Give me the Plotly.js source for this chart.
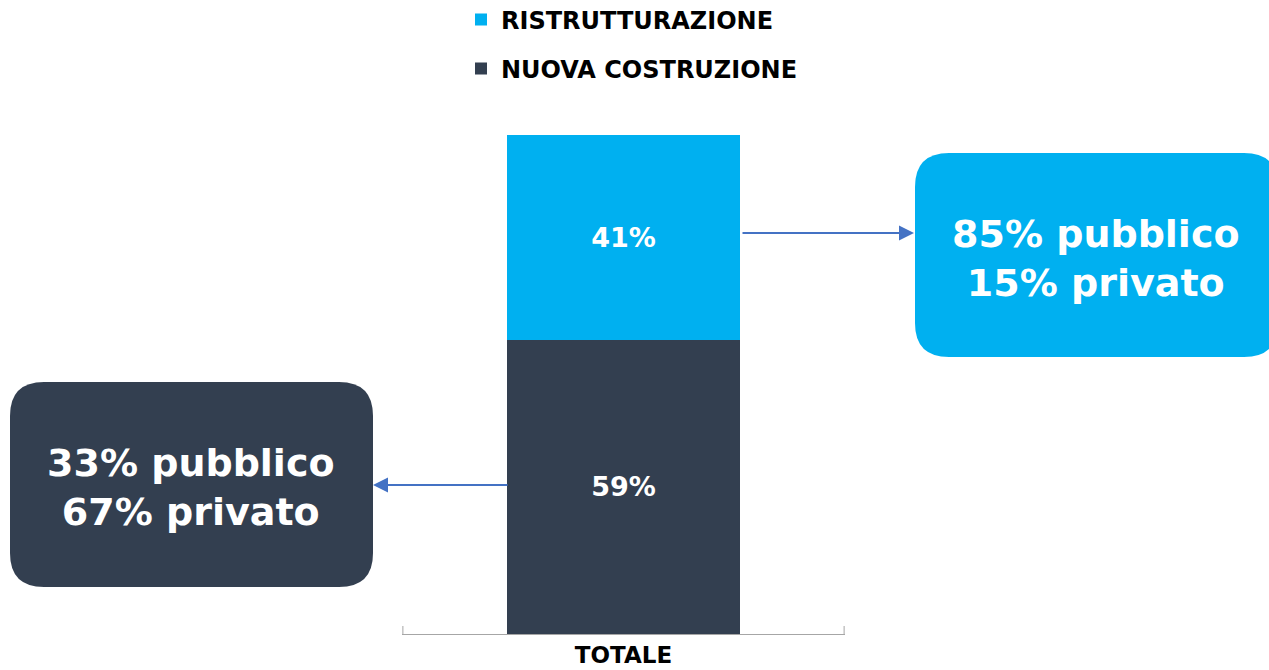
<!DOCTYPE html>
<html>
<head>
<meta charset="utf-8">
<script src="https://cdn.plot.ly/plotly-3.0.1.min.js"></script>
<style>html,body{margin:0;padding:0;background:#fff;}#chart{width:1269px;height:670px;}</style>
</head>
<body>
<div id="chart"></div>
<script>
// ---- data ----
var categories = ['TOTALE'];
var seriesNames = ['NUOVA COSTRUZIONE', 'RISTRUTTURAZIONE'];
var nuovaValues = [59];
var ristValues = [41];
var splitLabels = ['pubblico', 'privato'];
var ristSplit = [85, 15];
var nuovaSplit = [33, 67];

// ---- style ----
var FONT = 'DejaVu Sans, Verdana, sans-serif';
var C_LIGHT = '#00B0F0';
var C_DARK = '#333F50';
var C_ARROW = '#4472C4';
var C_AXIS = '#A6A6A6';

// plot area in pixels
var PL = 402, PR = 845, PT = 135, PB = 634;
function px(x) { return (x - PL) / (PR - PL); }
function py(y) { return (PB - y) / (PB - PT); }

function roundRect(x0, y0, x1, y1, r) {
  var X0 = px(x0), X1 = px(x1), Y0 = py(y0), Y1 = py(y1);
  var rx = r / (PR - PL), ry = r / (PB - PT);
  return 'M' + (X0 + rx) + ',' + Y0 +
    ' L' + (X1 - rx) + ',' + Y0 +
    ' Q' + X1 + ',' + Y0 + ' ' + X1 + ',' + (Y0 - ry) +
    ' L' + X1 + ',' + (Y1 + ry) +
    ' Q' + X1 + ',' + Y1 + ' ' + (X1 - rx) + ',' + Y1 +
    ' L' + (X0 + rx) + ',' + Y1 +
    ' Q' + X0 + ',' + Y1 + ' ' + X0 + ',' + (Y1 + ry) +
    ' L' + X0 + ',' + (Y0 - ry) +
    ' Q' + X0 + ',' + Y0 + ' ' + (X0 + rx) + ',' + Y0 + ' Z';
}

function splitText(vals) {
  return vals[0] + '% ' + splitLabels[0] + '<br>' + vals[1] + '% ' + splitLabels[1];
}

var barText = {family: FONT, size: 27, color: '#FFFFFF', weight: 700};

var traces = [
  {
    type: 'bar', x: categories, y: nuovaValues, name: seriesNames[0],
    marker: {color: C_DARK}, width: 0.53,
    text: nuovaValues.map(function (v) { return v + '%'; }),
    textposition: 'inside', insidetextanchor: 'middle',
    textfont: barText, constraintext: 'none',
    legend: 'legend2', hoverinfo: 'skip'
  },
  {
    type: 'bar', x: categories, y: ristValues, name: seriesNames[1],
    marker: {color: C_LIGHT}, width: 0.53,
    text: ristValues.map(function (v) { return v + '%'; }),
    textposition: 'inside', insidetextanchor: 'middle',
    textfont: barText, constraintext: 'none',
    legend: 'legend', hoverinfo: 'skip'
  }
];

var legendFont = {family: FONT, size: 24, color: '#000000', weight: 700};

// category boundary tick marks (rising from the axis line)
var boundaryShapes = [];
for (var i = 0; i <= categories.length; i++) {
  boundaryShapes.push({
    type: 'line', xref: 'x', yref: 'paper', ysizemode: 'pixel', yanchor: 0,
    x0: i - 0.5, x1: i - 0.5, y0: 0, y1: 8,
    line: {color: C_AXIS, width: 1}, layer: 'above'
  });
}

var layout = {
  width: 1269, height: 670,
  margin: {l: PL, r: 1269 - PR, t: PT, b: 670 - PB, pad: 0, autoexpand: false},
  paper_bgcolor: '#FFFFFF', plot_bgcolor: '#FFFFFF',
  barmode: 'stack',
  showlegend: true,
  legend: {
    x: px(461), y: py(20), xanchor: 'left', yanchor: 'middle',
    font: legendFont, itemwidth: 30, bgcolor: 'rgba(0,0,0,0)', borderwidth: 0
  },
  legend2: {
    x: px(461), y: py(69), xanchor: 'left', yanchor: 'middle',
    font: legendFont, itemwidth: 30, bgcolor: 'rgba(0,0,0,0)', borderwidth: 0
  },
  xaxis: {
    type: 'category', range: [-0.502, 0.502],
    showline: true, linecolor: C_AXIS, linewidth: 1, ticks: '',
    tickfont: {family: FONT, size: 23, color: '#000000', weight: 700},
    showgrid: false, zeroline: false, fixedrange: true
  },
  yaxis: {
    range: [0, 100], visible: false, showgrid: false, zeroline: false, fixedrange: true
  },
  shapes: [
    {type: 'path', xref: 'paper', yref: 'paper', path: roundRect(915, 153, 1278, 357, 34),
     fillcolor: C_LIGHT, line: {width: 0}, layer: 'below'},
    {type: 'path', xref: 'paper', yref: 'paper', path: roundRect(10, 382, 373, 587, 34),
     fillcolor: C_DARK, line: {width: 0}, layer: 'below'}
  ].concat(boundaryShapes),
  annotations: [
    {xref: 'paper', yref: 'paper', x: px(1096), y: py(258), xanchor: 'center', yanchor: 'middle',
     showarrow: false, text: splitText(ristSplit), align: 'center',
     font: {family: FONT, size: 38, color: '#FFFFFF', weight: 700}},
    {xref: 'paper', yref: 'paper', x: px(191), y: py(488), xanchor: 'center', yanchor: 'middle',
     showarrow: false, text: splitText(nuovaSplit), align: 'center',
     font: {family: FONT, size: 38, color: '#FFFFFF', weight: 700}},
    {xref: 'paper', yref: 'paper', x: px(914), y: py(233), text: '',
     showarrow: true, ax: -(914 - 741), ay: 0, arrowhead: 2, arrowsize: 1.5,
     arrowwidth: 2, arrowcolor: C_ARROW, standoff: 0},
    {xref: 'paper', yref: 'paper', x: px(373), y: py(485), text: '',
     showarrow: true, ax: 509 - 373, ay: 0, arrowhead: 2, arrowsize: 1.5,
     arrowwidth: 2, arrowcolor: C_ARROW, standoff: 0}
  ]
};

Plotly.newPlot('chart', traces, layout, {displayModeBar: false, staticPlot: true});
</script>
</body>
</html>
